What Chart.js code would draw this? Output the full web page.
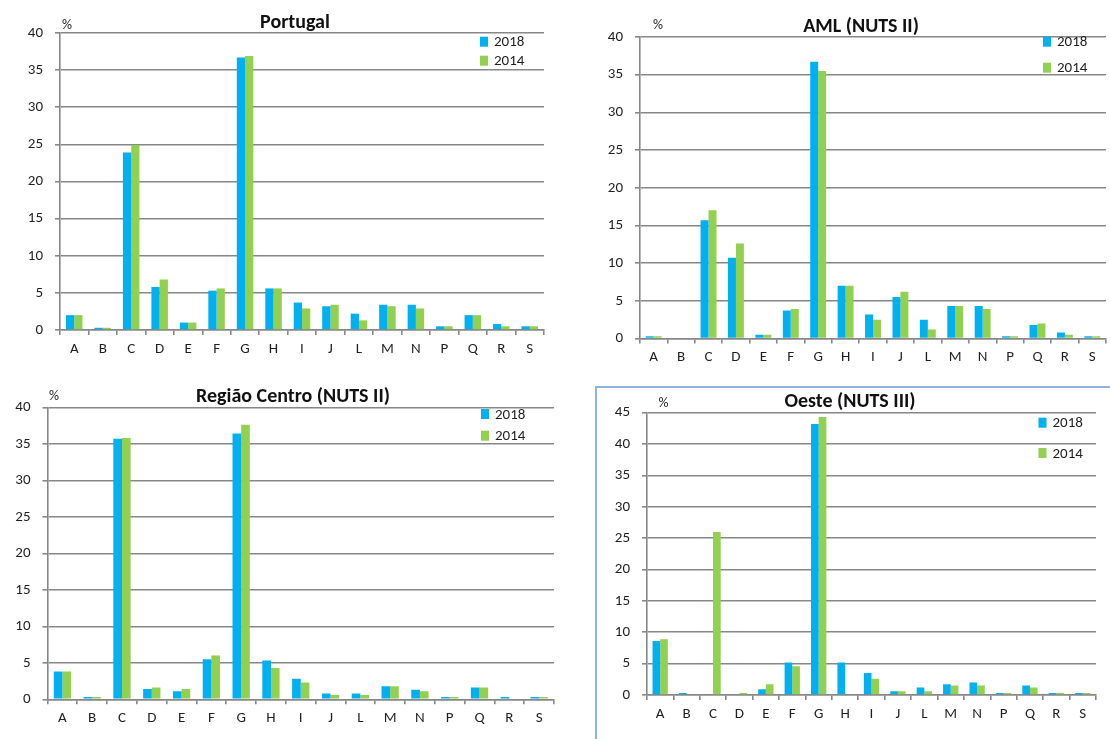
<!DOCTYPE html>
<html lang="pt">
<head>
<meta charset="utf-8">
<title>Estrutura por secção CAE — 2018 vs 2014</title>
<script src="https://cdn.jsdelivr.net/npm/chart.js@4.4.1/dist/chart.umd.min.js"></script>
<style>
  html, body { margin: 0; padding: 0; background: #ffffff; }
  body { width: 1110px; height: 739px; position: relative; overflow: hidden; }
  .panel { position: absolute; }
  .frame { position: absolute; left: 595px; top: 386px; width: 600px; height: 420px;
           border: 2px solid #8eb4e3; box-sizing: border-box; }
</style>
</head>
<body>
<div class="frame"></div>
<div class="panel" id="p0" style="left:0px;top:0px;"><canvas id="c0" width="555" height="370"></canvas></div>
<div class="panel" id="p1" style="left:555px;top:0px;"><canvas id="c1" width="555" height="370"></canvas></div>
<div class="panel" id="p2" style="left:0px;top:370px;"><canvas id="c2" width="560" height="369"></canvas></div>
<div class="panel" id="p3" style="left:555px;top:370px;"><canvas id="c3" width="555" height="369"></canvas></div>
<script>
// Secções CAE
const categories = ['A','B','C','D','E','F','G','H','I','J','L','M','N','P','Q','R','S'];
const seriesLabels = ['2018', '2014'];
const panelTitles = ['Portugal', 'AML (NUTS II)', 'Região Centro (NUTS II)', 'Oeste (NUTS III)'];
const unitLabel = '%';

// Peso (%) de cada secção, por território
const portugal2018 = [2.0, 0.3, 23.9, 5.8, 1.0, 5.3, 36.7, 5.6, 3.7, 3.2, 2.2, 3.4, 3.4, 0.5, 2.0, 0.8, 0.5];
const portugal2014 = [2.0, 0.3, 24.9, 6.8, 1.0, 5.6, 36.9, 5.6, 2.9, 3.4, 1.3, 3.2, 2.9, 0.5, 2.0, 0.5, 0.5];

const aml2018 = [0.3, 0, 15.7, 10.7, 0.5, 3.7, 36.7, 7.0, 3.2, 5.5, 2.5, 4.3, 4.3, 0.3, 1.8, 0.8, 0.3];
const aml2014 = [0.3, 0, 17.0, 12.6, 0.5, 3.9, 35.5, 7.0, 2.5, 6.2, 1.2, 4.3, 3.9, 0.3, 2.0, 0.5, 0.3];

const centro2018 = [3.8, 0.3, 35.7, 1.4, 1.1, 5.5, 36.4, 5.3, 2.8, 0.8, 0.8, 1.8, 1.3, 0.3, 1.6, 0.3, 0.3];
const centro2014 = [3.8, 0.3, 35.8, 1.6, 1.4, 6.0, 37.6, 4.3, 2.3, 0.6, 0.6, 1.8, 1.1, 0.3, 1.6, 0, 0.3];

const oeste2018 = [8.6, 0.3, 0, 0, 0.9, 5.2, 43.2, 5.2, 3.5, 0.6, 1.2, 1.7, 2.0, 0.3, 1.5, 0.3, 0.3];
const oeste2014 = [8.9, 0, 26.0, 0.3, 1.7, 4.6, 44.3, 0, 2.6, 0.6, 0.6, 1.5, 1.5, 0.3, 1.2, 0.3, 0.3];

// Eixo vertical de cada painel
const yMaxima = [40, 40, 40, 45];

const COLOR_2018 = '#00b0f0';
const COLOR_2014 = '#92d050';
const GRID = '#878787';
const TEXT = '#1f1f1f';
const FONT = "Carlito, Lato, 'Open Sans', sans-serif";

Chart.defaults.font.family = FONT;
Chart.defaults.color = TEXT;

// Layout of each panel (canvas-local pixels)
const panels = [
  { canvas: 'c0', w: 555, h: 370, area: { l: 60, t: 33, r: 544, b: 330 },
    titleX: 295, titleY: 23, unitX: 67, unitY: 25, legX: 480, legY: [41.7, 60.7],
    series: [portugal2018, portugal2014] },
  { canvas: 'c1', w: 555, h: 370, area: { l: 85, t: 37, r: 551, b: 338.5 },
    titleX: 306, titleY: 27, unitX: 103, unitY: 25, legX: 488, legY: [41.7, 67.7],
    series: [aml2018, aml2014] },
  { canvas: 'c2', w: 560, h: 369, area: { l: 47.5, t: 37.3, r: 554, b: 329.3 },
    titleX: 293, titleY: 27, unitX: 54, unitY: 26, legX: 481, legY: [44, 65.7],
    series: [centro2018, centro2014] },
  { canvas: 'c3', w: 555, h: 369, area: { l: 92, t: 42.7, r: 541, b: 325 },
    titleX: 295, titleY: 32, unitX: 108.5, unitY: 33, legX: 483.5, legY: [52.7, 83],
    series: [oeste2018, oeste2014] }
];

// Title, unit marker and legend drawn on each panel
const panelDecor = {
  id: 'panelDecor',
  afterDraw(chart, args, o) {
    const ctx = chart.ctx;
    ctx.save();
    ctx.fillStyle = '#111111';
    ctx.textAlign = 'center';
    ctx.textBaseline = 'middle';
    ctx.font = 'bold 20px ' + FONT;
    ctx.fillText(o.title, o.titleX, o.titleY);
    ctx.font = '14px ' + FONT;
    ctx.fillStyle = TEXT;
    ctx.fillText(unitLabel, o.unitX, o.unitY);
    ctx.textAlign = 'left';
    ctx.font = '15px ' + FONT;
    chart.data.datasets.forEach((ds, i) => {
      ctx.fillStyle = ds.backgroundColor;
      ctx.fillRect(o.legX, o.legY[i] - 5, 8, 10);
      ctx.fillStyle = TEXT;
      ctx.fillText(ds.label, o.legX + 14, o.legY[i] + 1);
    });
    ctx.restore();
  }
};

const X_AXIS_H = 34;

panels.forEach((p, idx) => {
  const a = p.area;
  new Chart(document.getElementById(p.canvas), {
    type: 'bar',
    data: {
      labels: categories,
      datasets: seriesLabels.map((lab, i) => ({
        label: lab,
        data: p.series[i],
        backgroundColor: i === 0 ? COLOR_2018 : COLOR_2014,
        borderWidth: 0,
        barPercentage: 1.0,
        categoryPercentage: 0.58
      }))
    },
    options: {
      responsive: false,
      animation: false,
      devicePixelRatio: 1,
      layout: {
        padding: { left: 0, top: a.t, right: p.w - a.r, bottom: p.h - a.b - X_AXIS_H }
      },
      plugins: {
        legend: { display: false },
        title: { display: false },
        tooltip: { enabled: false },
        panelDecor: {
          title: panelTitles[idx], titleX: p.titleX, titleY: p.titleY,
          unitX: p.unitX, unitY: p.unitY, legX: p.legX, legY: p.legY
        }
      },
      scales: {
        x: {
          offset: true,
          afterFit: s => { s.height = X_AXIS_H; },
          grid: { drawOnChartArea: false, drawTicks: true, tickLength: 5, color: GRID, lineWidth: 1.6, offset: true },
          border: { display: true, color: GRID, width: 1.6 },
          ticks: { font: { size: 15 }, color: TEXT, padding: 5, maxRotation: 0, autoSkip: false }
        },
        y: {
          min: 0,
          max: yMaxima[idx],
          afterFit: s => { s.width = a.l; },
          grid: { color: GRID, lineWidth: 1.6, drawTicks: true, tickLength: 5 },
          border: { display: true, color: GRID, width: 1.6 },
          ticks: { stepSize: 5, font: { size: 15 }, color: TEXT, padding: 12 }
        }
      }
    },
    plugins: [panelDecor]
  });
});
</script>
</body>
</html>
